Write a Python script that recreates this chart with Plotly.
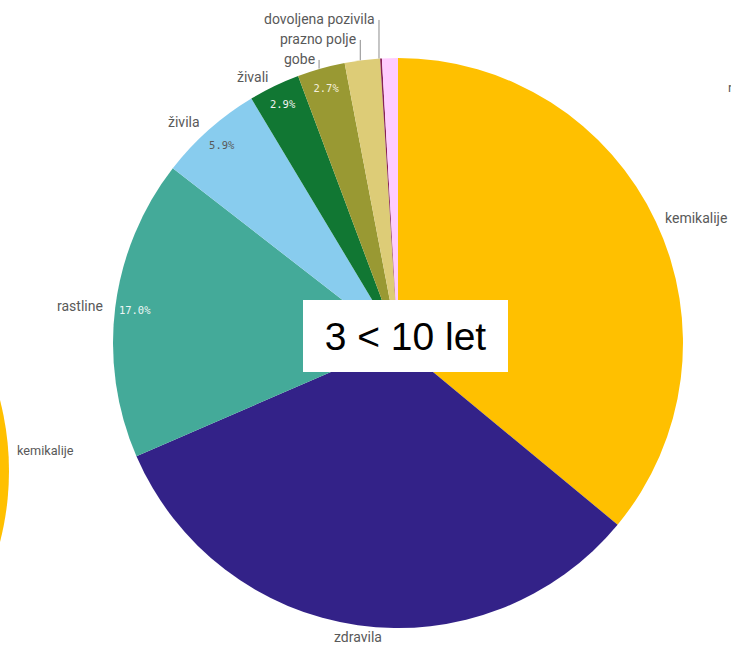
import math
import plotly.graph_objects as go

# ---- data ----
categories = ["kemikalije", "zdravila", "rastline", "živila", "živali", "gobe",
              "prazno polje", "dovoljena pozivila", "(brez oznake)"]
shares = [36.0, 32.5, 17.0, 5.9, 2.9, 2.7, 2.0, 0.1, 0.9]
show_outside_label = [True, True, True, True, True, True, True, True, False]
show_percent = [False, False, True, True, True, True, False, False, False]
colors = ["#FFC000", "#332288", "#44AA99", "#88CCEE", "#117733", "#999933",
          "#DDCC77", "#882255", "#FFCCFF"]
percent_colors = ["#ffffff", "#ffffff", "#eef6f4", "#5a5a5a", "#f2f2f2", "#f4f0dc",
                  "#ffffff", "#ffffff", "#ffffff"]
overlay_title = "3 < 10 let"
neighbour_label = "kemikalije"

W, H = 731, 649
cx, cy, R = 398, 343, 285
dom_x = [(cx - R) / W, (cx + R) / W]
dom_y = [(H - (cy + R)) / H, (H - (cy - R)) / H]

LABEL_COLOR = "#595959"
label_font = dict(family="Roboto", size=14, color=LABEL_COLOR)
pct_font = dict(family="DejaVu Sans Mono", size=10.5, color=percent_colors)


def px(x):
    return x / W


def py(y):
    return 1 - y / H


fig = go.Figure()
# coloured slices
fig.add_trace(go.Pie(
    labels=categories, values=shares, sort=False, direction="clockwise", rotation=0,
    marker=dict(colors=colors, line=dict(width=0)),
    textinfo="none", domain=dict(x=dom_x, y=dom_y), showlegend=False, hoverinfo="skip",
))
# percent labels near the rim (transparent ring)
fig.add_trace(go.Pie(
    labels=categories, values=shares, sort=False, direction="clockwise", rotation=0,
    hole=0.86,
    marker=dict(colors=["rgba(0,0,0,0)"] * len(categories), line=dict(width=0)),
    texttemplate=["%{percent:.1%}" if s else "" for s in show_percent],
    textposition="inside", insidetextorientation="horizontal",
    insidetextfont=pct_font,
    domain=dict(x=dom_x, y=dom_y), showlegend=False, hoverinfo="skip",
))

# outside category labels, placed at each slice's mid-angle
total = sum(shares)
mids = []
acc = 0.0
for v in shares:
    mids.append((acc + v / 2) / total * 360.0)
    acc += v

prev_top_y = None
for i in sorted(range(len(categories)), key=lambda k: mids[k]):
    if not show_outside_label[i]:
        continue
    th = math.radians(mids[i])
    s, c = math.sin(th), math.cos(th)
    deg = mids[i]
    if deg >= 340:
        # stacked labels near the top with vertical leader lines
        rim_x, rim_y = cx + R * s, cy - R * c
        nat_y = cy - (R + 10) * c
        y = nat_y if prev_top_y is None else min(nat_y, prev_top_y - 20)
        prev_top_y = y
        line_x = rim_x - 2
        fig.add_annotation(xref="paper", yref="paper", x=px(line_x - 2), y=py(y),
                           xanchor="right", yanchor="middle", showarrow=False,
                           text=categories[i], font=label_font)
        fig.add_shape(type="line", xref="paper", yref="paper",
                      x0=px(line_x), x1=px(line_x), y0=py(y + 1), y1=py(rim_y),
                      line=dict(color="#8c8c8c", width=1))
    elif 150 <= deg <= 210:
        fig.add_annotation(xref="paper", yref="paper",
                           x=px(cx + (R + 2) * s), y=py(cy - (R + 2) * c),
                           xanchor="center", yanchor="top", showarrow=False,
                           text=categories[i], font=label_font)
    elif deg < 150:
        fig.add_annotation(xref="paper", yref="paper",
                           x=px(cx + (R + 8) * s), y=py(cy - (R + 8) * c),
                           xanchor="left", yanchor="middle", showarrow=False,
                           text=categories[i], font=label_font)
    else:
        fig.add_annotation(xref="paper", yref="paper",
                           x=px(cx + (R + 10) * s), y=py(cy - (R + 10) * c),
                           xanchor="right", yanchor="middle", showarrow=False,
                           text=categories[i], font=label_font)

# fragment of the neighbouring pie on the left
ncx, ncy = -276, 471
fig.add_shape(type="circle", xref="paper", yref="paper", layer="below",
              x0=px(ncx - R), x1=px(ncx + R), y0=py(ncy + R), y1=py(ncy - R),
              fillcolor="#FFC000", line=dict(width=0))
fig.add_annotation(xref="paper", yref="paper", x=px(15), y=py(450),
                   xanchor="left", yanchor="middle", showarrow=False,
                   text=neighbour_label, font=dict(family="Roboto", size=12.7, color=LABEL_COLOR))
# cut-off label of the neighbouring chart on the right
fig.add_annotation(xref="paper", yref="paper", x=px(726), y=py(87),
                   xanchor="left", yanchor="middle", showarrow=False,
                   text="r", font=dict(family="Roboto", size=13, color=LABEL_COLOR))

# overlay text box
fig.add_annotation(xref="paper", yref="paper", x=px(405.5), y=py(336),
                   xanchor="center", yanchor="middle", showarrow=False,
                   text=overlay_title, width=205, height=72, borderpad=0, borderwidth=0,
                   bgcolor="#ffffff",
                   font=dict(family="Liberation Sans", size=39, color="#000000"))

fig.update_layout(width=W, height=H, margin=dict(l=0, r=0, t=0, b=0),
                  paper_bgcolor="#ffffff", plot_bgcolor="#ffffff")
fig.write_html("out.html", config={"displayModeBar": False},
               post_script="document.body.style.margin='0px';document.body.style.overflow='hidden';")
